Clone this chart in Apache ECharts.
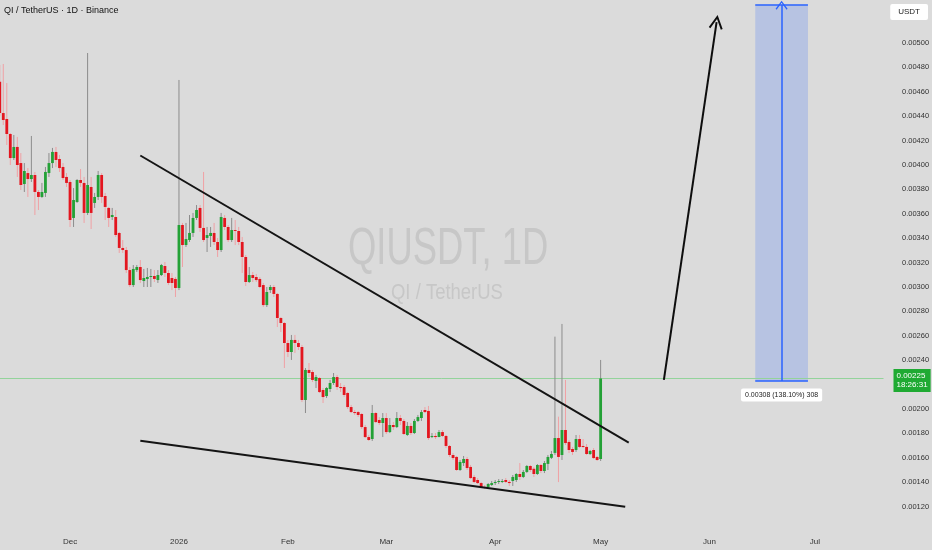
<!DOCTYPE html>
<html><head><meta charset="utf-8">
<script src="https://cdn.jsdelivr.net/npm/echarts@6/dist/echarts.min.js"></script>
<style>html,body{margin:0;padding:0;background:#dbdbdb}#c{width:932px;height:550px}</style>
</head><body><div id="c"></div><script>
// ---- data ----
const startDate = '2025-11-11';
const endDate = '2026-07-20';
const opens = [
0.004683,0.004426,0.004377,0.004254,0.004057,0.004148,0.004016,0.003844,0.003934,0.003885,
0.003918,0.003779,0.003738,0.003771,0.003934,0.004016,0.004107,0.004049,0.003984,0.003902,
0.003861,0.003566,0.003697,0.003877,0.003853,0.003607,0.003820,0.003689,0.003738,0.003918,
0.003746,0.003648,0.003574,0.003574,0.003443,0.003320,0.003303,0.003139,0.003016,0.003139,
0.003164,0.003049,0.003066,0.003082,0.003090,0.003057,0.003098,0.003172,0.003115,0.003074,
0.003066,0.002992,0.003508,0.003344,0.003385,0.003443,0.003566,0.003648,0.003484,0.003402,
0.003418,0.003443,0.003369,0.003303,0.003566,0.003492,0.003385,0.003467,0.003459,0.003369,
0.003246,0.003041,0.003098,0.003082,0.003066,0.003016,0.002852,0.002975,0.003000,0.002943,
0.002746,0.002705,0.002541,0.002467,0.002566,0.002541,0.002508,0.002074,0.002320,0.002303,
0.002230,0.002254,0.002156,0.002106,0.002164,0.002213,0.002262,0.002180,0.002180,0.002131,
0.002016,0.001975,0.001975,0.001959,0.001852,0.001770,0.001754,0.001967,0.001910,0.001885,
0.001926,0.001811,0.001869,0.001852,0.001926,0.001902,0.001787,0.001861,0.001803,0.001902,
0.001926,0.001992,0.001984,0.001770,0.001779,0.001770,0.001811,0.001779,0.001697,0.001623,
0.001607,0.001500,0.001557,0.001590,0.001525,0.001443,0.001418,0.001393,0.001361,0.001361,
0.001377,0.001393,0.001402,0.001404,0.001418,0.001402,0.001410,0.001418,0.001467,0.001443,
0.001484,0.001533,0.001510,0.001467,0.001541,0.001492,0.001550,0.001600,0.001640,0.001762,
0.001623,0.001828,0.001730,0.001672,0.001664,0.001754,0.001697,0.001689,0.001631,0.001664,
0.001607,0.001590];
const closes = [
0.004426,0.004369,0.004254,0.004057,0.004148,0.004000,0.003836,0.003951,0.003885,0.003918,
0.003779,0.003738,0.003779,0.003943,0.004016,0.004107,0.004041,0.003975,0.003893,0.003853,
0.003549,0.003713,0.003877,0.003853,0.003607,0.003836,0.003607,0.003738,0.003918,0.003738,
0.003656,0.003566,0.003590,0.003426,0.003320,0.003303,0.003139,0.003016,0.003148,0.003164,
0.003057,0.003074,0.003082,0.003090,0.003066,0.003098,0.003180,0.003115,0.003033,0.003033,
0.002992,0.003508,0.003344,0.003393,0.003443,0.003566,0.003631,0.003484,0.003385,0.003426,
0.003443,0.003369,0.003303,0.003574,0.003492,0.003385,0.003467,0.003459,0.003369,0.003246,
0.003041,0.003098,0.003074,0.003057,0.003000,0.002852,0.002959,0.003000,0.002943,0.002746,
0.002705,0.002541,0.002467,0.002566,0.002541,0.002508,0.002074,0.002320,0.002295,0.002238,
0.002262,0.002139,0.002098,0.002172,0.002213,0.002262,0.002180,0.002172,0.002115,0.002016,
0.001975,0.001967,0.001951,0.001852,0.001770,0.001746,0.001967,0.001893,0.001885,0.001926,
0.001811,0.001869,0.001852,0.001926,0.001902,0.001795,0.001861,0.001803,0.001902,0.001934,
0.001975,0.001975,0.001762,0.001779,0.001770,0.001811,0.001779,0.001697,0.001623,0.001598,
0.001500,0.001566,0.001590,0.001516,0.001434,0.001402,0.001393,0.001361,0.001353,0.001385,
0.001393,0.001402,0.001410,0.001410,0.001402,0.001393,0.001443,0.001467,0.001443,0.001484,
0.001533,0.001500,0.001467,0.001541,0.001492,0.001557,0.001607,0.001631,0.001762,0.001607,
0.001828,0.001721,0.001664,0.001648,0.001754,0.001689,0.001689,0.001631,0.001656,0.001598,
0.001582,0.002250];
const lows = [
0.004400,0.004328,0.004164,0.004000,0.004041,0.003902,0.003795,0.003779,0.003738,0.003861,
0.003590,0.003631,0.003730,0.003738,0.003902,0.003975,0.003984,0.003943,0.003877,0.003820,
0.003492,0.003492,0.003689,0.003820,0.003525,0.003590,0.003475,0.003648,0.003713,0.003689,
0.003549,0.003492,0.003549,0.003410,0.003279,0.003279,0.003115,0.003000,0.003000,0.003123,
0.003033,0.003000,0.003000,0.003000,0.003041,0.003033,0.003090,0.003082,0.003016,0.002975,
0.002918,0.002975,0.003164,0.003328,0.003369,0.003410,0.003549,0.003451,0.003369,0.003287,
0.003328,0.003344,0.003246,0.003287,0.003467,0.003369,0.003369,0.003344,0.003344,0.003115,
0.003008,0.003033,0.003041,0.003041,0.002992,0.002836,0.002836,0.002951,0.002918,0.002672,
0.002631,0.002336,0.002426,0.002402,0.002459,0.002484,0.002057,0.001967,0.002262,0.002221,
0.002172,0.002131,0.002049,0.002090,0.002139,0.002197,0.002156,0.002139,0.002098,0.002000,
0.001967,0.001951,0.001934,0.001836,0.001762,0.001738,0.001738,0.001885,0.001869,0.001770,
0.001795,0.001803,0.001828,0.001844,0.001869,0.001787,0.001779,0.001787,0.001795,0.001893,
0.001902,0.001967,0.001746,0.001762,0.001754,0.001770,0.001770,0.001680,0.001607,0.001582,
0.001492,0.001492,0.001533,0.001500,0.001426,0.001393,0.001385,0.001353,0.001344,0.001344,
0.001369,0.001377,0.001385,0.001393,0.001393,0.001369,0.001369,0.001402,0.001418,0.001434,
0.001475,0.001484,0.001443,0.001459,0.001475,0.001475,0.001500,0.001590,0.001623,0.001401,
0.001582,0.001705,0.001639,0.001623,0.001648,0.001680,0.001680,0.001623,0.001623,0.001590,
0.001574,0.001574];
const highs = [
0.004820,0.004828,0.004672,0.004262,0.004246,0.004230,0.004098,0.004016,0.003975,0.004238,
0.003943,0.003795,0.003853,0.003984,0.004098,0.004140,0.004148,0.004082,0.004016,0.003934,
0.003877,0.003811,0.003885,0.003967,0.003902,0.004918,0.003902,0.003771,0.003951,0.003934,
0.003771,0.003656,0.003648,0.003631,0.003451,0.003385,0.003328,0.003164,0.003180,0.003180,
0.003221,0.003148,0.003156,0.003148,0.003139,0.003139,0.003189,0.003205,0.003139,0.003115,
0.003082,0.004697,0.003525,0.003525,0.003590,0.003607,0.003672,0.003672,0.003943,0.003492,
0.003492,0.003525,0.003402,0.003607,0.003590,0.003508,0.003566,0.003549,0.003492,0.003410,
0.003262,0.003164,0.003123,0.003107,0.003082,0.003033,0.003000,0.003016,0.003016,0.002951,
0.002754,0.002713,0.002566,0.002607,0.002607,0.002566,0.002525,0.002336,0.002377,0.002320,
0.002279,0.002262,0.002172,0.002180,0.002238,0.002295,0.002279,0.002213,0.002197,0.002139,
0.002033,0.001992,0.001984,0.001967,0.001869,0.001787,0.002033,0.001975,0.001934,0.001967,
0.001967,0.001926,0.001893,0.001975,0.001951,0.001918,0.001893,0.001885,0.001918,0.001951,
0.001992,0.002016,0.002025,0.001803,0.001803,0.001828,0.001828,0.001787,0.001705,0.001639,
0.001615,0.001582,0.001615,0.001607,0.001541,0.001459,0.001434,0.001402,0.001377,0.001393,
0.001410,0.001418,0.001426,0.001426,0.001434,0.001418,0.001459,0.001475,0.001557,0.001500,
0.001541,0.001541,0.001525,0.001549,0.001549,0.001574,0.001623,0.001656,0.002593,0.001937,
0.002697,0.002238,0.001746,0.001689,0.001787,0.001787,0.001754,0.001713,0.001664,0.001680,
0.001615,0.002402];
const upperTrend = [['2025-12-21', 0.004078], ['2026-05-09', 0.001724]];
const lowerTrend = [['2025-12-21', 0.001739], ['2026-05-08', 0.001199]];
const projArrow = [['2026-05-19', 0.002238], ['2026-06-03', 0.005172]];
const targetFrom = '2026-06-14', targetTo = '2026-06-29';
const targetBase = 0.00223, targetTop = 0.00531;
const projLabel = '0.00308 (138.10%) 308';
const lastPrice = 0.00225;
const countdown = '18:26:31';
const priceTickMin = 0.0012, priceTickMax = 0.0050, priceTickStep = 0.0002;
const hiddenTicks = [0.0022];   // covered by the last-price tag
const monthNames = ['Jan','Feb','Mar','Apr','May','Jun','Jul','Aug','Sep','Oct','Nov','Dec'];
const titleText = 'QI / TetherUS · 1D · Binance';
const watermark = 'QIUSDT, 1D';
const watermarkSub = 'QI / TetherUS';
const quoteUnit = 'USDT';

// ---- build ----
const cats = [];
for (let t = Date.UTC(+startDate.slice(0,4), +startDate.slice(5,7)-1, +startDate.slice(8,10));
     t <= Date.UTC(+endDate.slice(0,4), +endDate.slice(5,7)-1, +endDate.slice(8,10)); t += 86400000) {
  cats.push(new Date(t).toISOString().slice(0,10));
}
const ix = d => cats.indexOf(d);
const candleData = opens.map((o, i) => [i, o, closes[i], lows[i], highs[i]]);
const iFrom = ix(targetFrom), iTo = ix(targetTo), iMid = (iFrom + iTo) / 2;

const font = "'Liberation Sans', Arial, sans-serif";
const chevBlack = 'path://M0,0 L7,13 L5.3,14 L0,4 L-5.3,14 L-7,13 Z';

const chart = echarts.init(document.getElementById('c'));
chart.setOption({
  animation: false,
  backgroundColor: '#dbdbdb',
  title: [
    { text: titleText, left: 4, top: 6, padding: 0, textStyle: { fontSize: 9, color: '#111', fontWeight: 'normal', fontFamily: font } },
    { text: quoteUnit, right: 4, top: 4, backgroundColor: '#ffffff', padding: [4, 8], borderRadius: 2,
      textStyle: { fontSize: 8, color: '#222', fontWeight: 'normal', fontFamily: font } }
  ],
  graphic: [
    { type: 'text', x: 348, y: 250, scaleX: 0.70, silent: true, z: 0,
      style: { text: watermark, fontSize: 52, fontFamily: font, fill: '#c7c7c7', textAlign: 'left', textVerticalAlign: 'middle' } },
    { type: 'text', x: 391, y: 293, scaleX: 0.84, silent: true, z: 0,
      style: { text: watermarkSub, fontSize: 22, fontFamily: font, fill: '#c7c7c7', textAlign: 'left', textVerticalAlign: 'middle' } }
  ],
  grid: { left: -2, right: 48.5, top: 0, bottom: 19, outerBoundsMode: 'none', containLabel: false },
  xAxis: [
    { type: 'category', data: cats, boundaryGap: true,
      axisLine: { show: false }, axisTick: { show: false }, splitLine: { show: false },
      axisLabel: { margin: 7, fontSize: 8, color: '#333', fontFamily: font,
        interval: (i, v) => v.slice(8) === '01',
        formatter: v => v.slice(5,7) === '01' ? v.slice(0,4) : monthNames[+v.slice(5,7)-1] } },
    { type: 'value', min: -0.5, max: cats.length - 0.5, show: false }
  ],
  yAxis: { type: 'value', position: 'right', min: 0.0010, max: 0.0053525, interval: priceTickStep,
    axisLine: { show: false }, axisTick: { show: false }, splitLine: { show: false },
    axisLabel: { margin: 18.5, fontSize: 7.5, color: '#333', fontFamily: font, align: 'left', showMaxLabel: false,
      formatter: v => (v < priceTickMin - 1e-6 || v > priceTickMax + 1e-6 ||
                       hiddenTicks.some(h => Math.abs(h - v) < 1e-7)) ? '' : v.toFixed(5) } },
  series: [
    { type: 'custom', xAxisIndex: 0, data: candleData, encode: { x: 0, y: [1,2,3,4] }, z: 3,
      renderItem: (params, api) => {
        const i = api.value(0), o = api.value(1), c = api.value(2), l = api.value(3), h = api.value(4);
        const pO = api.coord([i, o]), pC = api.coord([i, c]), pL = api.coord([i, l]), pH = api.coord([i, h]);
        const bw = api.size([1, 0])[0] * 0.8;
        const up = c >= o;
        const x = pO[0];
        const top = Math.min(pO[1], pC[1]), bot = Math.max(pO[1], pC[1]);
        return { type: 'group', children: [
          { type: 'line', shape: { x1: x, y1: pH[1], x2: x, y2: pL[1] },
            style: { stroke: up ? '#8c8c8c' : '#f0a0a4', lineWidth: 1 } },
          { type: 'rect', shape: { x: x - bw/2, y: top, width: bw, height: Math.max(bot - top, 1) },
            style: { fill: up ? '#23a136' : '#e3161f' } }
        ]};
      } },
    { type: 'line', xAxisIndex: 1, showSymbol: false, silent: true, z: 4,
      data: upperTrend.map(p => [ix(p[0]), p[1]]), lineStyle: { color: '#141414', width: 2 },
      markLine: { silent: true, precision: 6, symbol: ['none','none'], z: 2,
        label: { show: true, position: 'end', distance: 10,
          formatter: lastPrice.toFixed(5) + '\n' + countdown, color: '#fff', backgroundColor: '#1faa33',
          padding: [3, 3, 2, 3], fontSize: 8, lineHeight: 9, fontFamily: font, offset: [0, 2] },
        lineStyle: { color: '#93d39b', width: 1, type: 'solid' },
        data: [{ yAxis: lastPrice }] } },
    { type: 'line', xAxisIndex: 1, showSymbol: false, silent: true, z: 4,
      data: lowerTrend.map(p => [ix(p[0]), p[1]]), lineStyle: { color: '#141414', width: 2 } },
    { type: 'line', xAxisIndex: 1, showSymbol: false, silent: true, data: [],
      markLine: { silent: true, precision: 6, label: { show: false }, lineStyle: { color: '#0d0d0d', width: 2, type: 'solid' },
        data: [[ { coord: [ix(projArrow[0][0]), projArrow[0][1]], symbol: 'none' },
                 { coord: [ix(projArrow[1][0]), projArrow[1][1]], symbol: chevBlack, symbolSize: [14, 14] } ]] } },
    { type: 'line', xAxisIndex: 1, showSymbol: false, silent: true, data: [],
      markArea: { silent: true, itemStyle: { color: 'rgba(41,98,255,0.2)' },
        data: [[ { coord: [iFrom, targetTop] }, { coord: [iTo, targetBase] } ]] },
      markLine: { silent: true, precision: 6, label: { show: false }, lineStyle: { color: '#2962ff', width: 1.5, type: 'solid' },
        symbol: ['none','none'],
        data: [
          [ { coord: [iFrom, targetTop] }, { coord: [iTo, targetTop] } ],
          [ { coord: [iFrom, targetBase] }, { coord: [iTo, targetBase] } ],
          [ { coord: [iMid, targetBase], symbol: 'none' },
            { coord: [iMid, targetTop], symbol: 'path://M0,0 L7,10 L5.8,11 L0,2.6 L-5.8,11 L-7,10 Z', symbolSize: [12, 9] } ]
        ] },
      markPoint: { silent: true, symbol: 'circle', symbolSize: 0,
        data: [{ coord: [iMid, targetBase] }],
        label: { show: true, formatter: projLabel, offset: [0, 14], color: '#222', fontSize: 7,
          backgroundColor: '#ffffff', padding: [3, 4], borderRadius: 2, fontFamily: font } } }
  ]
});
</script></body></html>
